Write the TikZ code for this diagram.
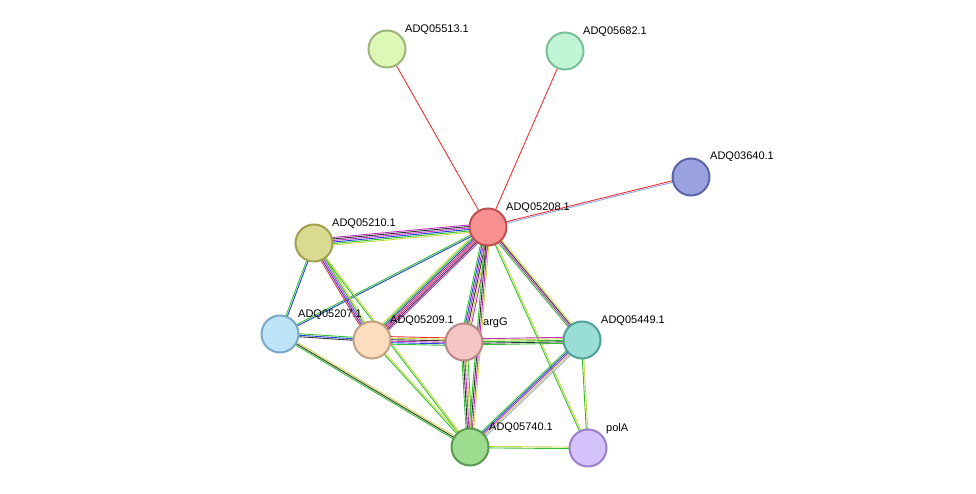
\documentclass[tikz,border=0pt]{standalone}
\usepackage{fontspec}
\setmainfont{Liberation Sans}
\usetikzlibrary{calc,backgrounds}
\definecolor{cR}{HTML}{F03030}
\definecolor{cG}{HTML}{30C030}
\definecolor{cB}{HTML}{2040E0}
\definecolor{cP}{HTML}{C030C0}
\definecolor{cK}{HTML}{303030}
\definecolor{cY}{HTML}{C8D840}
\definecolor{cL}{HTML}{90A8F0}
\newcommand\sedge[4]{%
 \foreach \c [count=\i] in {#4} {%
  \pgfmathsetmacro\off{(\i-(#3+1)/2)*1.5}%
  \draw[\c,line width=0.9pt] ($(#1.center)!\off pt!90:(#2.center)$) -- ($(#2.center)!\off pt!-90:(#1.center)$);
 }}
\tikzset{prot/.style={circle,minimum size=37pt,inner sep=0pt,line width=2pt},
 lab/.style={font=\fontsize{11}{13}\selectfont,anchor=south west,inner sep=1pt}}
\begin{document}
\begin{tikzpicture}[x=1pt,y=-1pt]
\useasboundingbox (0,0) rectangle (976,494);
\newcommand\prot[5]{\definecolor{f#1}{HTML}{#4}\definecolor{d#1}{HTML}{#5}\node[prot,fill=f#1,draw=d#1] (#1) at (#2,#3) {};}
\prot{a5513}{387}{49}{DDF7B7}{9DB57A}
\prot{a5682}{565}{51}{C0F5D6}{7ABF98}
\prot{a3640}{691}{177}{9AA3E0}{5A64A8}
\prot{a5208}{488}{227}{F89090}{C05050}
\prot{a5210}{314}{243}{DADA90}{A0A050}
\prot{a5207}{280}{334}{BDE4F9}{7AA8C8}
\prot{a5209}{372}{340}{FDDCBF}{C0A080}
\prot{argG}{464}{342}{F5C4C4}{B88888}
\prot{a5449}{582}{340}{99DDD5}{50A098}
\prot{a5740}{470}{447}{9DDB8E}{5A9A50}
\prot{polA}{588}{448}{D4C2FA}{9A80C8}
\begin{pgfonlayer}{background}
\sedge{a5513}{a5208}{1}{cR}
\sedge{a5682}{a5208}{1}{cR}
\sedge{a3640}{a5208}{2}{cR,cL}
\sedge{a5210}{a5208}{6}{cY,cG,cB,cP,cK,cP}
\sedge{a5208}{a5207}{2}{cG,cB}
\sedge{a5208}{a5209}{7}{cY,cG,cB,cR,cP,cK,cP}
\sedge{a5208}{argG}{6}{cG,cB,cP,cK,cY,cP}
\sedge{a5208}{a5449}{4}{cG,cP,cK,cY}
\sedge{a5208}{a5740}{4}{cG,cK,cP,cY}
\sedge{a5208}{polA}{2}{cG,cY}
\sedge{a5210}{a5207}{2}{cG,cB}
\sedge{a5210}{a5209}{5}{cR,cB,cP,cG,cY}
\sedge{a5210}{a5740}{2}{cG,cY}
\sedge{a5207}{a5209}{3}{cK,cB,cG}
\sedge{a5207}{a5740}{3}{cG,cK,cY}
\sedge{a5209}{argG}{6}{cG,cB,cP,cK,cY,cR}
\sedge{a5209}{a5740}{2}{cG,cY}
\sedge{argG}{a5449}{5}{cG,cK,cG,cY,cP}
\sedge{argG}{a5740}{5}{cG,cK,cP,cY,cG}
\sedge{a5449}{a5740}{5}{cG,cB,cP,cY,cL}
\sedge{a5449}{polA}{2}{cG,cY}
\sedge{a5740}{polA}{2}{cG,cY}
\end{pgfonlayer}
\node[lab] at (404,36) {ADQ05513.1};
\node[lab] at (582,38) {ADQ05682.1};
\node[lab] at (709,163) {ADQ03640.1};
\node[lab] at (505,214) {ADQ05208.1};
\node[lab] at (331,230) {ADQ05210.1};
\node[lab] at (297,321) {ADQ05207.1};
\node[lab] at (389,327) {ADQ05209.1};
\node[lab] at (482,329) {argG};
\node[lab] at (600,327) {ADQ05449.1};
\node[lab] at (488,434) {ADQ05740.1};
\node[lab] at (605,435) {polA};
\end{tikzpicture}
\end{document}
